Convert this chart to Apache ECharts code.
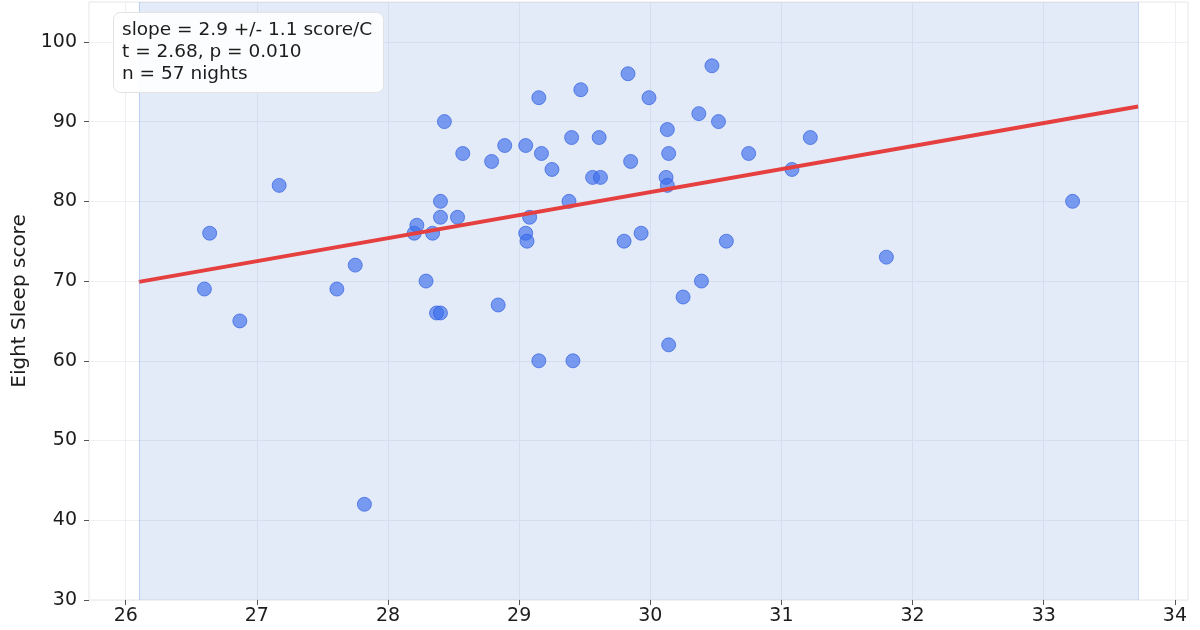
<!DOCTYPE html>
<html>
<head>
<meta charset="utf-8">
<script src="https://cdn.jsdelivr.net/npm/echarts@6/dist/echarts.min.js"></script>
<style>
  html, body { margin: 0; padding: 0; background: #fff; }
  #chart { width: 1200px; height: 630px; }
</style>
</head>
<body>
<div id="chart"></div>
<script>
// bedroom temperature (C) per night and the Eight Sleep score for that night
var tempC = [26.60, 26.64, 26.87, 27.17, 27.61, 27.75, 27.82, 28.20, 28.22, 28.29,
  28.34, 28.37, 28.40, 28.40, 28.40, 28.43, 28.53, 28.57, 28.79, 28.84,
  28.89, 29.05, 29.05, 29.06, 29.08, 29.15, 29.15, 29.17, 29.25, 29.38,
  29.40, 29.41, 29.47, 29.56, 29.61, 29.62, 29.80, 29.83, 29.85, 29.93,
  29.99, 30.12, 30.13, 30.13, 30.14, 30.14, 30.25, 30.37, 30.39, 30.47,
  30.52, 30.58, 30.75, 31.08, 31.22, 31.80, 33.22]
var score = [69, 76, 65, 82, 69, 72, 42, 76, 77, 70,
  76, 66, 66, 80, 78, 90, 78, 86, 85, 67,
  87, 87, 76, 75, 78, 93, 60, 86, 84, 80,
  88, 60, 94, 83, 88, 83, 75, 96, 85, 76,
  93, 83, 82, 89, 86, 62, 68, 91, 70, 97,
  90, 75, 86, 84, 88, 73, 80]

// fitted line end points
var fitX = [26.1, 33.72]
var fitY = [69.9, 91.9]

// temperature span covered by the data window (shaded)
var spanX = [26.1, 33.72]

var xTicks = [26, 27, 28, 29, 30, 31, 32, 33, 34]
var yTicks = [30, 40, 50, 60, 70, 80, 90, 100]

var statsLines = [
  'slope = 2.9 +/- 1.1 score/C',
  't = 2.68, p = 0.010',
  'n = 57 nights'
]

var points = tempC.map(function (t, i) { return [t, score[i]] })
var fitLine = fitX.map(function (x, i) { return [x, fitY[i]] })

var font = 'DejaVu Sans'
var chart = echarts.init(document.getElementById('chart'))

chart.setOption({
  animation: false,
  textStyle: { fontFamily: font },
  title: {
    text: statsLines.join('\n'),
    left: 113,
    top: 12,
    padding: [7, 12, 8, 9],
    backgroundColor: 'rgba(255,255,255,0.92)',
    borderColor: '#e2e2e2',
    borderWidth: 1,
    borderRadius: 7,
    textStyle: {
      fontFamily: font,
      fontSize: 18.5,
      fontWeight: 'normal',
      lineHeight: 22,
      color: '#1c1c1c'
    }
  },
  grid: {
    left: 89,
    right: 12,
    top: 2,
    bottom: 30,
    show: true,
    borderColor: '#e6e6e6',
    borderWidth: 1
  },
  xAxis: {
    type: 'value',
    min: 25.72,
    max: 34.1,
    axisLine: { show: false },
    axisTick: {
      show: true,
      length: 5,
      lineStyle: { color: '#555' },
      customValues: xTicks
    },
    axisLabel: {
      fontSize: 19,
      color: '#1c1c1c',
      margin: 7,
      customValues: xTicks
    },
    splitLine: { show: true, lineStyle: { color: '#eef0f4', width: 1 } }
  },
  yAxis: {
    type: 'value',
    min: 30,
    max: 105,
    name: 'Eight Sleep score',
    nameLocation: 'middle',
    nameGap: 56,
    nameTextStyle: { fontFamily: font, fontSize: 20, color: '#1c1c1c' },
    axisLine: { show: false },
    axisTick: {
      show: true,
      length: 5,
      lineStyle: { color: '#555' },
      customValues: yTicks
    },
    axisLabel: {
      fontSize: 19,
      color: '#1c1c1c',
      margin: 12,
      customValues: yTicks
    },
    splitLine: { show: true, lineStyle: { color: '#eef0f4', width: 1 } }
  },
  series: [
    {
      type: 'scatter',
      data: points,
      symbolSize: 14,
      itemStyle: {
        color: 'rgba(58,108,234,0.8)',
        borderColor: 'rgba(40,88,220,0.8)',
        borderWidth: 1
      },
      z: 3,
      markArea: {
        silent: true,
        itemStyle: { color: 'rgba(68,118,212,0.15)', borderWidth: 0 },
        data: [[{ xAxis: spanX[0] }, { xAxis: spanX[1] }]]
      },
      markLine: {
        silent: true,
        symbol: 'none',
        label: { show: false },
        lineStyle: { color: 'rgba(140,170,230,0.45)', type: 'solid', width: 1 },
        data: [{ xAxis: spanX[0] }, { xAxis: spanX[1] }]
      }
    },
    {
      type: 'line',
      data: fitLine,
      showSymbol: false,
      lineStyle: { color: '#e5403f', width: 4 },
      z: 4
    }
  ]
})
</script>
</body>
</html>
